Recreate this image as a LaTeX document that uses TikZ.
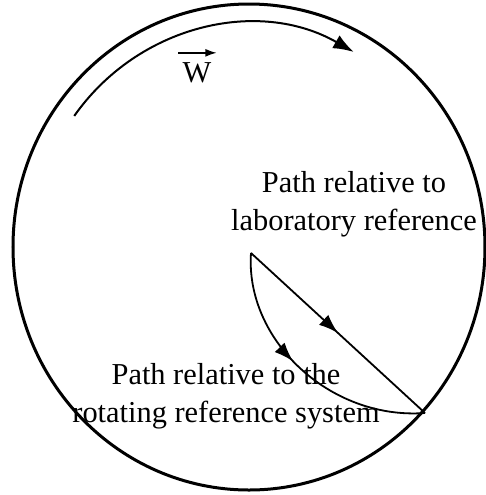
\documentclass[tikz,border=0pt]{standalone}
\usepackage{fontspec}
\setmainfont{Liberation Serif}
\usetikzlibrary{arrows.meta,calc,decorations.markings}
\tikzset{lbl/.style={align=center,font=\fontsize{15.2}{19}\selectfont,inner sep=0pt},
  midarr/.style={postaction={decorate},decoration={markings,
    mark=at position #1 with {\arrow{Latex[length=3.4mm,width=2.4mm]}}}},
  trace/.style={line width=0.9pt}}

\begin{document}
\begin{tikzpicture}[x=0.5pt,y=-0.5pt,>=Latex]
\useasboundingbox (0,0) rectangle (486,495);
\coordinate (C) at (249,247);
\draw[line width=1.5pt] (C) ellipse[x radius=118pt,y radius=121.5pt];
% rotation of the disc
\draw[line width=1pt,-{Latex[length=3.6mm,width=2.6mm]}] ($(C)+(144:108pt and 111.5pt)$)
  arc[start angle=144,end angle=61,x radius=108pt,y radius=111.5pt];
\node[lbl] (w) at (197,73) {W};
\draw[line width=0.8pt,-{Latex[length=2mm,width=1.4mm]}] ([xshift=-2pt,yshift=4.8pt]w.north west) -- ([xshift=2.5pt,yshift=4.8pt]w.north east);
% the two paths
\coordinate (A) at (251,253);
\coordinate (B) at (425,413);
\draw[trace,midarr=0.5] (A) -- (B);
\draw[trace,midarr=0.45] (A) .. controls (245,340) and (330,420) .. (B);
\node[lbl] (lab) at (354,204) {Path relative to\\laboratory reference};
\node[lbl] (rot) at (226,396) {Path relative to the\\rotating reference system};
\end{tikzpicture}
\end{document}
